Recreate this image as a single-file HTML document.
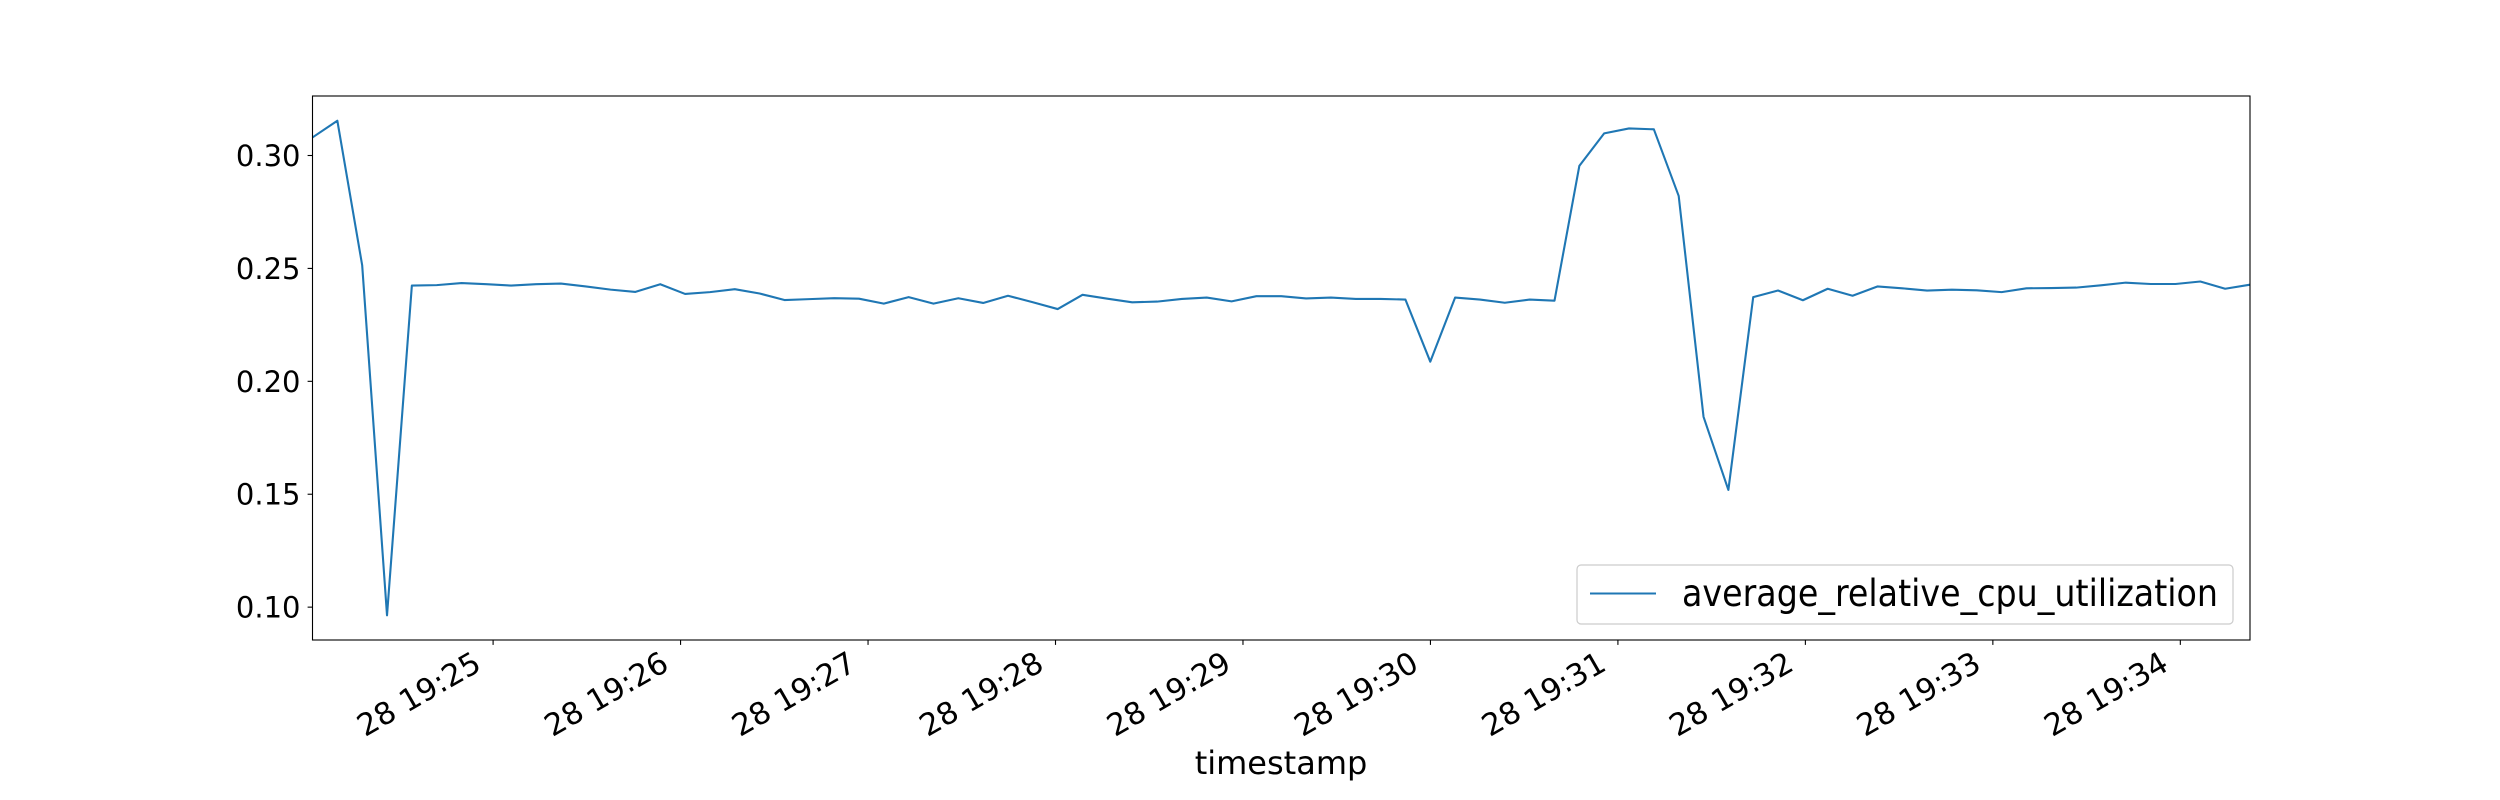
<!DOCTYPE html>
<html>
<head>
<meta charset="utf-8">
<style>
  html, body { margin: 0; padding: 0; background: #ffffff; }
  svg { display: block; font-family: "DejaVu Sans", "Liberation Sans", sans-serif; }
</style>
</head>
<body>
<svg id="chart" width="2500" height="800" viewBox="0 0 2500 800" xmlns="http://www.w3.org/2000/svg">
  <rect x="0" y="0" width="2500" height="800" fill="#ffffff"/>
  <g id="plot"></g>
  <g id="yaxis"></g>
  <g id="xaxis"></g>
  <rect x="312.5" y="96" width="1937.5" height="544" fill="none" stroke="#000" stroke-width="1.1"/>
  <text x="1281" y="774" font-size="32" text-anchor="middle" fill="#000">timestamp</text>
  <g>
    <rect x="1577" y="565" width="656" height="59" rx="4" ry="4" fill="#ffffff" fill-opacity="0.8" stroke="#cccccc" stroke-width="1.2"/>
    <line x1="1590" y1="593.5" x2="1656" y2="593.5" stroke="#1f77b4" stroke-width="2.1"/>
    <text x="1682" y="606" font-size="37" textLength="536" lengthAdjust="spacingAndGlyphs" fill="#000">average_relative_cpu_utilization</text>
  </g>
</svg>
<script>
// ---- data ----
const startSeconds = 19 * 3600 + 24 * 60 + 2.2;   // first timestamp 19:24:02.2
const stepSeconds = 7.95;                          // sampling interval
const cpuValues = [
  0.3080, 0.3154, 0.2514, 0.0964, 0.2424, 0.2426, 0.2435, 0.2430, 0.2424, 0.2430,
  0.2433, 0.2420, 0.2406, 0.2396, 0.2430, 0.2387, 0.2395, 0.2408, 0.2389, 0.2360,
  0.2364, 0.2368, 0.2366, 0.2344, 0.2373, 0.2344, 0.2368, 0.2347, 0.2379, 0.2350,
  0.2320, 0.2383, 0.2366, 0.2350, 0.2353, 0.2365, 0.2371, 0.2354, 0.2377, 0.2377,
  0.2367, 0.2371, 0.2365, 0.2365, 0.2362, 0.2087, 0.2371, 0.2362, 0.2348, 0.2362,
  0.2357, 0.2954, 0.3098, 0.3120, 0.3116, 0.2821, 0.1843, 0.1519, 0.2373, 0.2402,
  0.2359, 0.2410, 0.2379, 0.2420, 0.2412, 0.2402, 0.2406, 0.2403, 0.2395, 0.2412,
  0.2413, 0.2415, 0.2425, 0.2437, 0.2431, 0.2431, 0.2442, 0.2410, 0.2428
];
const xTickMinutes = [25, 26, 27, 28, 29, 30, 31, 32, 33, 34];
const xTickLabels = ["28 19:25", "28 19:26", "28 19:27", "28 19:28", "28 19:29",
                     "28 19:30", "28 19:31", "28 19:32", "28 19:33", "28 19:34"];
const yTickValues = [0.10, 0.15, 0.20, 0.25, 0.30];
const yTickLabels = ["0.10", "0.15", "0.20", "0.25", "0.30"];

// ---- scales ----
const NS = "http://www.w3.org/2000/svg";
const plotL = 312.5, plotR = 2250, plotT = 96, plotB = 640;
const tMin = startSeconds, tMax = startSeconds + (cpuValues.length - 1) * stepSeconds;
const vMin = Math.min(...cpuValues), vMax = Math.max(...cpuValues);
const pad = (vMax - vMin) * 0.05;
const yLo = vMin - pad, yHi = vMax + pad;
function xScale(t) { return plotL + (t - tMin) / (tMax - tMin) * (plotR - plotL); }
function yScale(v) { return plotB - (v - yLo) / (yHi - yLo) * (plotB - plotT); }

// ---- series ----
const plot = document.getElementById('plot');
const pts = cpuValues.map((v, i) => xScale(startSeconds + i * stepSeconds).toFixed(2) + ',' + yScale(v).toFixed(2));
const line = document.createElementNS(NS, 'polyline');


line.setAttribute('points', pts.join(' '));
line.setAttribute('fill', 'none');
line.setAttribute('stroke', '#1f77b4');
line.setAttribute('stroke-width', '2.1');
line.setAttribute('stroke-linejoin', 'round');
plot.appendChild(line);

// ---- y axis ----
const yaxis = document.getElementById('yaxis');
yTickValues.forEach((v, i) => {
  const y = yScale(v);
  const tk = document.createElementNS(NS, 'line');
  
  
  tk.setAttribute('x1', plotL - 4.9); tk.setAttribute('x2', plotL);
  tk.setAttribute('y1', y); tk.setAttribute('y2', y);
  tk.setAttribute('stroke', '#000'); tk.setAttribute('stroke-width', '1.1');
  yaxis.appendChild(tk);
  const tx = document.createElementNS(NS, 'text');
  
  
  tx.setAttribute('x', plotL - 12);
  tx.setAttribute('y', y + 10.5);
  tx.setAttribute('font-size', '29');
  tx.setAttribute('text-anchor', 'end');
  tx.textContent = yTickLabels[i];
  yaxis.appendChild(tx);
});

// ---- x axis ----
const xaxis = document.getElementById('xaxis');
xTickMinutes.forEach((m, i) => {
  const x = xScale(19 * 3600 + m * 60);
  const tk = document.createElementNS(NS, 'line');
  
  
  tk.setAttribute('x1', x); tk.setAttribute('x2', x);
  tk.setAttribute('y1', plotB); tk.setAttribute('y2', plotB + 4.9);
  tk.setAttribute('stroke', '#000'); tk.setAttribute('stroke-width', '1.1');
  xaxis.appendChild(tk);
  const px = x - 10, py = 669;
  const tx = document.createElementNS(NS, 'text');
  
  
  tx.setAttribute('x', px);
  tx.setAttribute('y', py);
  tx.setAttribute('font-size', '30.5');
  tx.setAttribute('text-anchor', 'end');
  tx.setAttribute('transform', 'rotate(-30 ' + px + ' ' + py + ')');
  tx.textContent = xTickLabels[i];
  xaxis.appendChild(tx);
});
</script>
</body>
</html>
